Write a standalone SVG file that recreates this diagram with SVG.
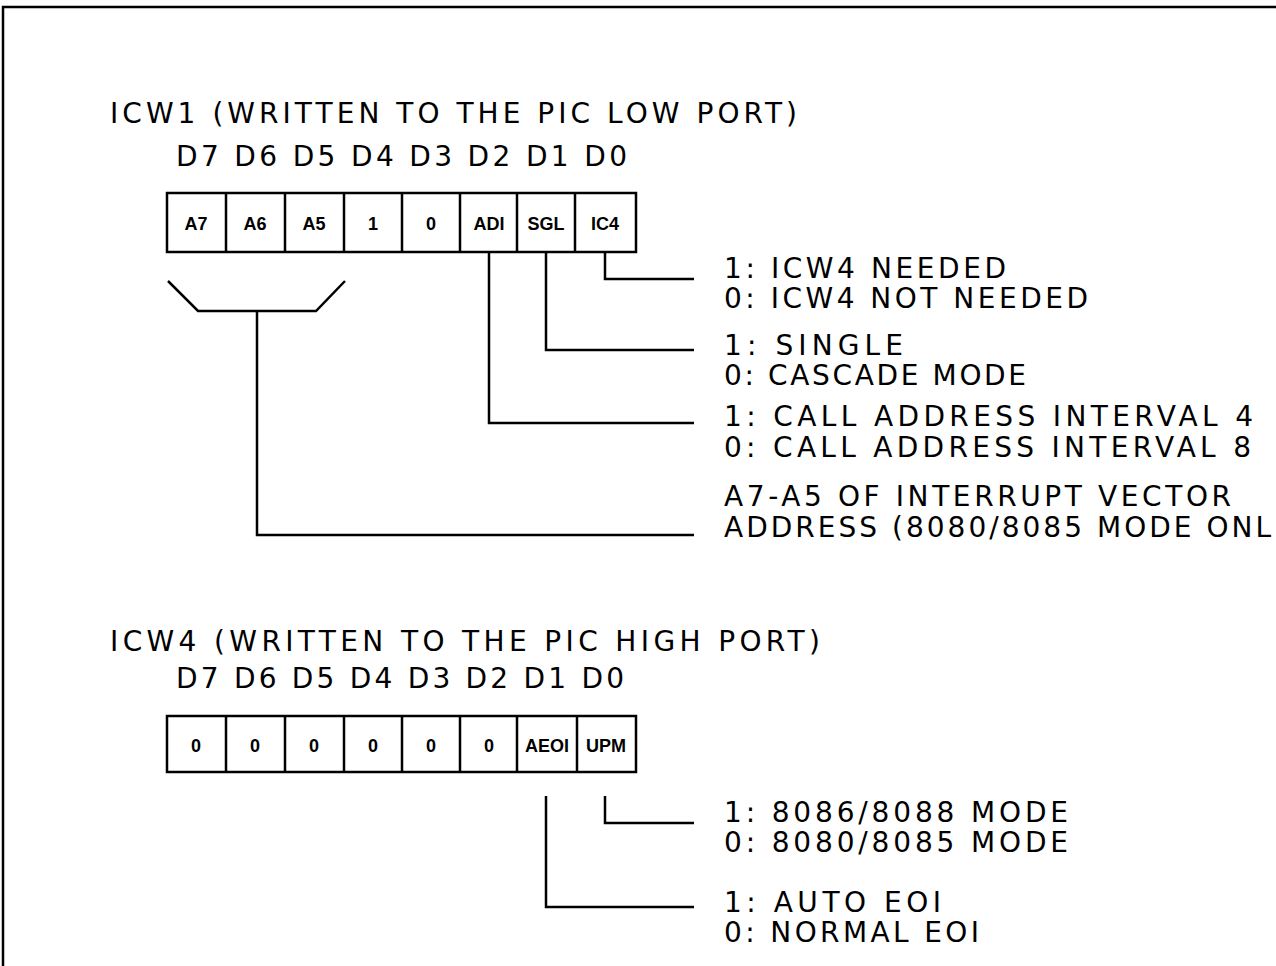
<svg xmlns="http://www.w3.org/2000/svg" width="1276" height="966" viewBox="0 0 1276 966">
<style>
.t{font-family:"DejaVu Sans","Liberation Sans",Arial,sans-serif;font-size:28px;fill:#000}
.c{font-family:"Liberation Sans",Arial,sans-serif;font-size:18px;font-weight:bold;fill:#000;text-anchor:middle}
.ln{fill:none;stroke:#000;stroke-width:2.5}
.bx{fill:#fff;stroke:#000;stroke-width:2.5}
</style>
<rect width="1276" height="966" fill="#fff"/>
<path class="ln" d="M3,966 V7 H1276" stroke-width="2"/>

<g id="icw1-title">
<text class="t" x="110" y="123" textLength="687" lengthAdjust="spacing">ICW1 (WRITTEN TO THE PIC LOW PORT)</text>
<text class="t" x="176" y="166" textLength="451" lengthAdjust="spacing">D7 D6 D5 D4 D3 D2 D1 D0</text>
</g>
<g id="icw1-register">
<rect class="bx" x="167" y="193" width="469" height="59"/>
<path class="ln" d="M226,193V252M285,193V252M344,193V252M402,193V252M460,193V252M517,193V252M575,193V252"/>
<text class="c" x="196" y="230">A7</text>
<text class="c" x="255" y="230">A6</text>
<text class="c" x="314" y="230">A5</text>
<text class="c" x="373" y="230">1</text>
<text class="c" x="431" y="230">0</text>
<text class="c" x="489" y="230">ADI</text>
<text class="c" x="546" y="230">SGL</text>
<text class="c" x="605" y="230">IC4</text>
</g>
<g id="icw1-labels">
<text class="t" x="724" y="278" textLength="282" lengthAdjust="spacing">1: ICW4 NEEDED</text>
<text class="t" x="724" y="308" textLength="364" lengthAdjust="spacing">0: ICW4 NOT NEEDED</text>
<text class="t" x="724" y="355" textLength="179" lengthAdjust="spacing">1: SINGLE</text>
<text class="t" x="724" y="385" textLength="302" lengthAdjust="spacing">0: CASCADE MODE</text>
<text class="t" x="724" y="426" textLength="529" lengthAdjust="spacing">1: CALL ADDRESS INTERVAL 4</text>
<text class="t" x="724" y="457" textLength="527" lengthAdjust="spacing">0: CALL ADDRESS INTERVAL 8</text>
<text class="t" x="724" y="506" textLength="507" lengthAdjust="spacing">A7-A5 OF INTERRUPT VECTOR</text>
<text class="t" x="724" y="537" textLength="547" lengthAdjust="spacing">ADDRESS (8080/8085 MODE ONL</text>
</g>

<g id="icw4-title">
<text class="t" x="110" y="651" textLength="710" lengthAdjust="spacing">ICW4 (WRITTEN TO THE PIC HIGH PORT)</text>
<text class="t" x="176" y="688" textLength="448" lengthAdjust="spacing">D7 D6 D5 D4 D3 D2 D1 D0</text>
</g>
<g id="icw4-register">
<rect class="bx" x="167" y="716" width="469" height="56"/>
<path class="ln" d="M226,716V772M285,716V772M344,716V772M402,716V772M460,716V772M517,716V772M577,716V772"/>
<text class="c" x="196" y="752">0</text>
<text class="c" x="255" y="752">0</text>
<text class="c" x="314" y="752">0</text>
<text class="c" x="373" y="752">0</text>
<text class="c" x="431" y="752">0</text>
<text class="c" x="489" y="752">0</text>
<text class="c" x="547" y="752">AEOI</text>
<text class="c" x="606" y="752">UPM</text>
</g>
<g id="icw4-labels">
<text class="t" x="724" y="822" textLength="344" lengthAdjust="spacing">1: 8086/8088 MODE</text>
<text class="t" x="724" y="852" textLength="344" lengthAdjust="spacing">0: 8080/8085 MODE</text>
<text class="t" x="724" y="912" textLength="217" lengthAdjust="spacing">1: AUTO EOI</text>
<text class="t" x="724" y="942" textLength="255" lengthAdjust="spacing">0: NORMAL EOI</text>
</g>

<g id="connectors">
<path class="ln" d="M605,252V279H694"/>
<path class="ln" d="M546,252V350H694"/>
<path class="ln" d="M489,252V423H694"/>
<path class="ln" d="M168,281L198,311H316L345,281"/>
<path class="ln" d="M257,311V535H694"/>
<path class="ln" d="M605,796V823H694"/>
<path class="ln" d="M546,796V907H694"/>
</g>
</svg>
